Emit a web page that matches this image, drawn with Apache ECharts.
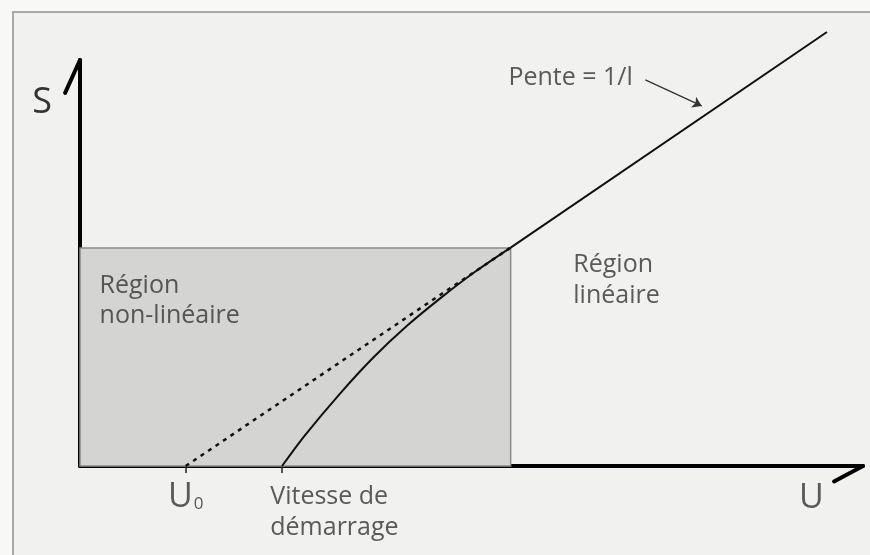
<!DOCTYPE html>
<html>
<head>
<meta charset="utf-8">
<script src="https://cdn.jsdelivr.net/npm/echarts@6/dist/echarts.min.js"></script>
<style>
html,body{margin:0;padding:0;background:#f8f8f7;}
#main{width:870px;height:555px;}
</style>
</head>
<body>
<div id="main"></div>
<script>
// valeurs (U en abscisse, S en ordonnee, echelle 0-100)
var U0 = 13.5;
var uDemarrage = 25.8;
var tickValues = [U0, uDemarrage];
var zoneNonLineaire = [55, 53.7];                 // coin haut-droit de la zone grisee
var droiteTiretee = [[13.5, 0], [55, 53.8]];
var droiteLineaire = [[55, 53.8], [95.4, 106.9]];
var courbe = [[25.8, 0], [28.7, 7.5], [33.1, 17.6], [37.4, 26.6], [41.8, 34.6],
              [46.2, 41.6], [50.5, 47.9], [55, 53.8]];
var flecheAxeY = [[0, 100], [-1.9, 91.9]];
var flecheAxeX = [[100, 0], [96.3, -3.8]];
var flechePente = [[72.2, 95.1], [79.4, 88.7]];

var textes = ['Région', 'non-linéaire', 'Région', 'linéaire', 'Pente = 1/l', 'Vitesse de', 'démarrage'];
var textesPos = [[2.5, 44.4], [2.5, 37.0], [63.0, 49.6], [63.0, 41.9], [70.6, 95.6], [24.3, -7.6], [24.3, -15.2]];
var textesAlign = ['right', 'right', 'right', 'right', 'left', 'right', 'right'];

var police = 'Open Sans';
var gris = '#333';

var chart = echarts.init(document.getElementById('main'));

//annotations
var annotData = [];
for (var i = 0; i < textes.length; i++) {
    annotData.push({
        name: textes[i],
        value: textesPos[i],
        label: {position: textesAlign[i]}
    });
}
// U0 sous la premiere graduation
annotData.push({
    name: 'U0',
    value: [U0, -7.6],
    label: {position: 'inside', formatter: '{u|U}{s|0}'}
});
// nom de l'axe U
annotData.push({
    name: 'U',
    value: [93.4, -7.9],
    label: {position: 'inside', formatter: '{u|U}'}
});

chart.setOption({
    backgroundColor: '#f8f8f7',
    animation: false,
    graphic: [{
        type: 'rect',
        z: -10,
        shape: {x: 13, y: 12, width: 880, height: 570},
        style: {fill: '#f1f1ef', stroke: '#a9a9a9', lineWidth: 2}
    }],
    grid: {left: 80, right: 7, top: 60, bottom: 89},
    xAxis: {
        type: 'value',
        min: 0,
        max: 100,
        splitLine: {show: false},
        axisLine: {lineStyle: {color: '#000', width: 4}},
        axisTick: {show: true, length: 7, customValues: tickValues, lineStyle: {color: '#222', width: 1.5}},
        axisLabel: {show: false}
    },
    yAxis: {
        type: 'value',
        min: 0,
        max: 100,
        name: 'S',
        nameLocation: 'end',
        nameGap: -43,
        nameTextStyle: {
            fontFamily: police, fontSize: 36, color: gris,
            align: 'right', verticalAlign: 'middle', padding: [0, 28, 0, 0]
        },
        splitLine: {show: false},
        axisLine: {lineStyle: {color: '#000', width: 4}},
        axisTick: {show: false},
        axisLabel: {show: false}
    },
    series: [
        {
            name: 'zone',
            type: 'line',
            data: [],
            markArea: {
                silent: true,
                itemStyle: {color: '#d4d4d2', borderColor: '#8c8c8c', borderWidth: 1.5},
                data: [[{coord: [0, 0]}, {coord: zoneNonLineaire}]]
            }
        },
        {
            name: 'tirets',
            type: 'line',
            data: droiteTiretee,
            symbol: 'none',
            lineStyle: {color: '#111', width: 2.5, type: [4, 5]}
        },
        {
            name: 'courbe',
            type: 'line',
            data: courbe,
            symbol: 'none',
            smooth: 0.3,
            lineStyle: {color: '#111', width: 2}
        },
        {
            name: 'lineaire',
            type: 'line',
            data: droiteLineaire,
            symbol: 'none',
            clip: false,
            lineStyle: {color: '#111', width: 2}
        },
        {
            name: 'fleches axes',
            type: 'lines',
            coordinateSystem: 'cartesian2d',
            clip: false,
            silent: true,
            lineStyle: {color: '#000', width: 4, opacity: 1, cap: 'round'},
            data: [{coords: flecheAxeY}, {coords: flecheAxeX}]
        },
        {
            name: 'pente',
            type: 'lines',
            coordinateSystem: 'cartesian2d',
            symbol: ['none', 'arrow'],
            symbolSize: 9,
            lineStyle: {color: '#333', width: 1.3, opacity: 1},
            data: [{coords: flechePente}]
        },
        {
            name: 'textes',
            type: 'scatter',
            symbolSize: 0,
            clip: false,
            silent: true,
            data: annotData,
            label: {
                show: true,
                distance: 0,
                formatter: '{b}',
                fontFamily: police,
                fontSize: 25,
                color: gris,
                rich: {
                    u: {fontFamily: police, fontSize: 34, color: gris, verticalAlign: 'bottom'},
                    s: {fontFamily: police, fontSize: 17, color: gris, verticalAlign: 'bottom', padding: [0, 0, 1, 1]}
                }
            }
        }
    ]
});
</script>
</body>
</html>
